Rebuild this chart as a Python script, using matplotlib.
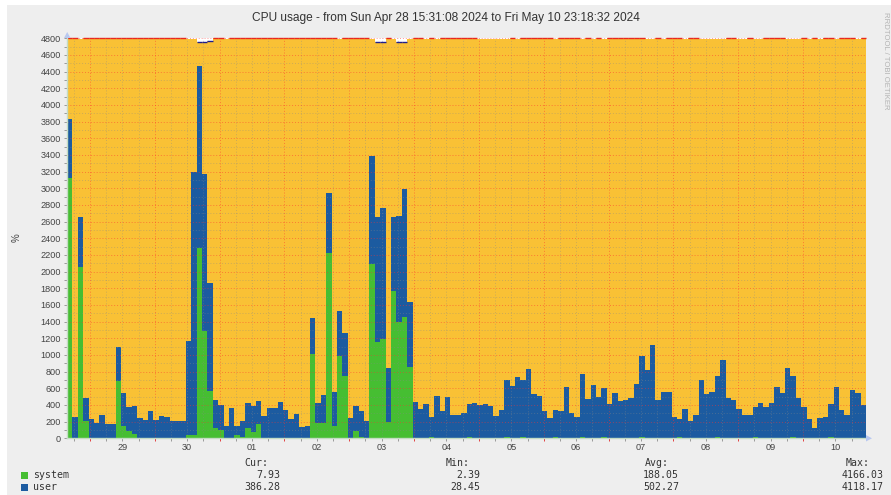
import matplotlib
matplotlib.use('Agg')
import matplotlib.pyplot as plt
import numpy as np
from matplotlib.patches import Rectangle, Polygon

W, H = 891, 495  # output size in pixels

# time axis in hours counted from Sun Apr 28 2024 00:00
t_start = 15 + 31 / 60 + 8 / 3600      # Apr 28 15:31:08
t_end = 12 * 24 + 23 + 18 / 60 + 32 / 3600  # May 10 23:18:32

day_labels = ['29', '30', '01', '02', '03', '04', '05', '06', '07', '08', '09', '10']

# 2-hour buckets, values in % (48 cores -> 4800 %)
system = [3128, 4, 2056, 212, 8, 8, 8, 8, 8, 688, 152, 92,
          52, 8, 8, 8, 8, 8, 8, 8, 8, 8, 40, 40,
          2284, 1292, 568, 124, 100, 8, 8, 40, 20, 128, 76, 176,
          8, 8, 8, 8, 8, 8, 8, 8, 8, 1012, 184, 184,
          2224, 148, 988, 748, 8, 88, 20, 8, 2092, 1160, 1192, 196,
          1768, 1396, 1456, 856,
          8, 6, 8, 10, 8, 8, 6, 8, 8, 8, 10, 8,
          8, 8, 6, 8, 8, 12, 8, 8, 10, 8, 8, 6,
          8, 8, 10, 8, 8, 6, 8, 12, 8, 8, 8, 10,
          8, 8, 6, 8, 8, 8, 10, 8, 8, 8, 6, 8,
          8, 10, 8, 8, 6, 8, 8, 8, 10, 8, 8, 8,
          6, 8, 8, 10, 8, 8, 8, 6, 8, 8, 10, 8,
          8, 8, 6, 8, 8, 10, 8, 8, 8, 6, 8, 8]

user = [704, 248, 600, 272, 224, 180, 272, 164, 164, 408, 392, 288,
        336, 236, 216, 320, 212, 260, 248, 200, 200, 200, 1128, 3156,
        2184, 1880, 1296, 340, 300, 140, 356, 108, 188, 296, 316, 272,
        264, 356, 356, 428, 332, 228, 284, 124, 140, 432, 240, 336,
        720, 408, 540, 516, 236, 300, 308, 200, 1296, 1496, 1572, 648,
        888, 1272, 1536, 780,
        432, 344, 404, 248, 500, 320, 488, 272, 272, 296, 404, 416,
        392, 404, 380, 260, 332, 692, 620, 728, 692, 824, 524, 500,
        320, 236, 332, 320, 608, 296, 248, 764, 464, 632, 488, 596,
        404, 536, 440, 452, 476, 644, 980, 812, 1112, 452, 548, 548,
        248, 224, 344, 200, 272, 692, 524, 548, 740, 932, 476, 452,
        344, 272, 272, 368, 416, 368, 416, 608, 536, 836, 740, 476,
        368, 224, 116, 236, 248, 404, 608, 332, 272, 572, 536, 386]

capacity = 4800
# buckets where the idle area stops just short of the ceiling (no line drawn)
top_gaps = [2, 22, 23, 29, 50, 56, 60, 63, 66, 68, 76, 77, 78, 79, 80, 81, 83, 90,
            95, 97, 99, 107, 108, 110, 114, 117, 118, 119, 120, 121, 124, 125,
            127, 128, 133, 134, 135, 137, 139, 142, 146]
# buckets where the ceiling dips (drawn in dark blue)
top_dips = {24: 4752, 25: 4752, 26: 4770, 57: 4750, 58: 4750, 61: 4760, 62: 4760}

legend_rows = [('system', '7.93', '2.39', '188.05', '4166.03'),
               ('user', '386.28', '28.45', '502.27', '4118.17')]

YELLOW = '#F9C135'
BLUE = '#1C5BA0'
GREEN = '#46BE32'
BG = '#EEEEEE'


def fx(px):
    return px / W


def fy(py):
    return 1 - py / H


fig = plt.figure(figsize=(W / 100, H / 100), dpi=100, facecolor=BG)
# white bevel on the top and left border
fig.add_artist(Rectangle((0, fy(5)), 1, 5 / H, transform=fig.transFigure,
                         color='white', lw=0, zorder=0))
fig.add_artist(Rectangle((0, 0), fx(7), 1, transform=fig.transFigure,
                         color='white', lw=0, zorder=0))

ax = fig.add_axes([fx(67), fy(438.3), 799 / W, 400 / H])
ax.set_facecolor('white')

n = len(user)
edges = np.linspace(t_start, t_end, n + 1)
sys_a = np.array(system, float)
top_a = sys_a + np.array(user, float)
total = np.full(n, float(capacity))
for b in top_gaps:
    total[b] = capacity - 10
for b, v in top_dips.items():
    total[b] = v


def stepy(v):
    return np.append(v, v[-1])


ax.fill_between(edges, stepy(top_a), stepy(total), step='post', color=YELLOW, lw=0, zorder=1)
ax.fill_between(edges, stepy(sys_a), stepy(top_a), step='post', color=BLUE, lw=0, zorder=1)
ax.fill_between(edges, 0, stepy(sys_a), step='post', color=GREEN, lw=0, zorder=1)

# ceiling line
for i in range(n):
    if i in top_gaps:
        continue
    if i in top_dips:
        ax.hlines(top_dips[i], edges[i], edges[i + 1], color='#1E1E8C', lw=1.0,
                  zorder=4, clip_on=False)
    else:
        ax.hlines(capacity, edges[i], edges[i + 1], color='#E8281E', lw=1.0,
                  zorder=4, clip_on=False)

ax.set_xlim(t_start, t_end)
ax.set_ylim(0, capacity)

# grid: minor every 100 % / 6 h, major every 200 % / midnight
ax.set_yticks(np.arange(0, 4801, 200))
ax.set_yticks(np.arange(0, 4801, 100), minor=True)
ax.set_yticklabels([str(v) for v in range(0, 4801, 200)])
midnights = np.arange(24, t_end, 24)
ax.set_xticks(midnights)
ax.set_xticks(np.arange(18, t_end, 6), minor=True)
ax.set_xticklabels([])
ax.set_axisbelow(False)
ax.grid(which='major', color='#FF3030', alpha=0.5, lw=0.7, ls=(0, (1, 2)))
ax.grid(which='minor', color='#888888', alpha=0.4, lw=0.7, ls=(0, (1, 2)))

ax.tick_params(axis='y', which='both', length=2.5, width=0.7, color='#999999',
               labelsize=6.6, labelcolor='#444444', pad=2)
ax.tick_params(axis='x', which='minor', length=2.5, width=0.7, color='#999999')
ax.tick_params(axis='x', which='major', length=2.5, width=0.7, color='#E04040')
for lab in ax.get_yticklabels():
    lab.set_family('Liberation Sans')

for k, lab in enumerate(day_labels):
    ax.text(24 * (k + 1) + 12, -(448 - 438.3) / 400, lab, transform=ax.get_xaxis_transform(),
            ha='center', va='center', fontsize=6.6, color='#444444', family='Liberation Sans')

for s in ['top', 'right']:
    ax.spines[s].set_visible(False)
for s in ['left', 'bottom']:
    ax.spines[s].set_color('#C4DCC4')
    ax.spines[s].set_linewidth(1.0)
    ax.spines[s].set_zorder(5)

# axis arrows
fig.add_artist(Polygon([(fx(866), fy(435)), (fx(866), fy(441.5)), (fx(872), fy(438.3))],
                       closed=True, transform=fig.transFigure, color='#B8C8F0', lw=0))
fig.add_artist(Polygon([(fx(64), fy(38)), (fx(70.5), fy(38)), (fx(67.2), fy(32))],
                       closed=True, transform=fig.transFigure, color='#B8C8F0', lw=0))

fig.text(fx(446), fy(18), 'CPU usage - from Sun Apr 28 15:31:08 2024 to Fri May 10 23:18:32 2024',
         ha='center', va='center', fontsize=8.6, color='#333333', family='Liberation Sans')
fig.text(fx(17), fy(238), '%', ha='center', va='center', rotation=90, fontsize=7,
         color='#444444', family='Liberation Sans')
fig.text(fx(886), fy(12), 'RRDTOOL / TOBI OETIKER', ha='center', va='top', rotation=270,
         fontsize=5.6, color='#B4B4B4', family='Liberation Sans')

# legend
mono = dict(family='DejaVu Sans Mono', fontsize=7.1, color='#333333', va='center')
for head, xr in [('Cur:', 268), ('Min:', 470), ('Avg:', 669), ('Max:', 870)]:
    fig.text(fx(xr), fy(463), head, ha='right', **mono)
value_ends = [280, 480, 679, 884]
for r, (name, cur, mn, avg, mx) in enumerate(legend_rows):
    y = 475 + 12 * r
    color = GREEN if name == 'system' else BLUE
    fig.add_artist(Rectangle((fx(21), fy(y + 3.5)), 7 / W, 7 / H, transform=fig.transFigure,
                             facecolor=color, edgecolor='none'))
    fig.text(fx(33), fy(y), name, ha='left', **mono)
    for val, xr in zip([cur, mn, avg, mx], value_ends):
        fig.text(fx(xr), fy(y), val, ha='right', **mono)

fig.savefig('out.png', dpi=100, facecolor=BG)
